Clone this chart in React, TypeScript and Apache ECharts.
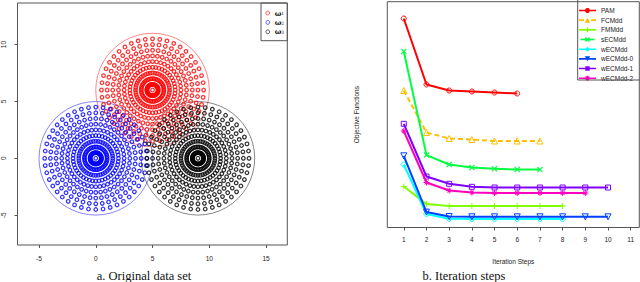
import React, { useEffect, useRef } from 'react';
import * as echarts from 'echarts';

// ---------- Panel a: original data set ----------
const clusterNames = ['ω1', 'ω2', 'ω3'];
const clusterCenters: [number, number][] = [[5, 6], [0, 0], [9, 0]];
const ringRadii = [0, 0.5, 1, 1.5, 2, 2.5, 3, 3.5, 4, 4.5];
const ringPointCounts = [1, 44, 44, 44, 44, 44, 44, 44, 44, 44];
const clusterOuterRadius = 5;
const xTicksA = [-5, 0, 5, 10, 15];
const yTicksA = [-5, 0, 5, 10];

// ---------- Panel b: iteration steps ----------
const methodNames = ['PAM', 'FCMdd', 'FMMdd', 'sECMdd', 'wECMdd', 'wECMdd-0', 'wECMdd-1', 'wECMdd-2'];
const pamValues = [209, 143, 137, 136, 135, 134];
const fcmddValues = [137, 95, 89, 88, 86.5, 86.5, 86.5];
const fmmddValues = [41, 23.4, 21.4, 21.4, 21.4, 21.4, 21.4, 21.4];
const secmddValues = [176, 72.4, 63, 60, 58.7, 58, 58];
const wecmddValues = [63, 13.4, 8.7, 8.4, 8.4, 8.4, 8.4, 8.4];
const wecmdd0Values = [71.7, 15.4, 11, 10.7, 10.7, 10.7, 10.7, 10.7, 10.7, 10.7];
const wecmdd1Values = [103.7, 51, 43.7, 40.7, 40, 40, 40, 40, 40, 40];
const wecmdd2Values = [96.4, 45, 37, 35, 34.4, 34.4, 34.4, 34.4, 34.4];
const methodValues = [pamValues, fcmddValues, fmmddValues, secmddValues, wecmddValues, wecmdd0Values, wecmdd1Values, wecmdd2Values];
const iterTicks = [1, 2, 3, 4, 5, 6, 7, 8, 9, 10, 11];

// ---------- styles ----------
const clusterColors = ['#ff0000', '#0000ff', '#000000'];
const methodColors = ['#FF0000', '#FFBF00', '#80FF00', '#00FF40', '#00FFFF', '#0040FF', '#8000FF', '#FF00BF'];

const polyPath = (pts: number[][]) => 'M' + pts.map((p) => p[0].toFixed(2) + ',' + p[1].toFixed(2)).join(' L') + ' Z';
const plusPts = (cx: number, cy: number, r: number, t: number) => [
  [cx - t, cy - r], [cx + t, cy - r], [cx + t, cy - t], [cx + r, cy - t], [cx + r, cy + t], [cx + t, cy + t],
  [cx + t, cy + r], [cx - t, cy + r], [cx - t, cy + t], [cx - r, cy + t], [cx - r, cy - t], [cx - t, cy - t],
];
const rotPts = (pts: number[][], cx: number, cy: number, a: number) =>
  pts.map(([x, y]) => [cx + (x - cx) * Math.cos(a) - (y - cy) * Math.sin(a), cy + (x - cx) * Math.sin(a) + (y - cy) * Math.cos(a)]);
const circlePts = (cx: number, cy: number, r: number) =>
  Array.from({ length: 14 }, (_, i) => [cx + r * Math.cos((i / 14) * Math.PI * 2), cy + r * Math.sin((i / 14) * Math.PI * 2)]);

const plusD = polyPath(plusPts(5, 5, 5, 0.8));
const crossD = polyPath(rotPts(plusPts(5, 5, 5, 0.8), 5, 5, Math.PI / 4));
const asteriskD = plusD + ' ' + polyPath(rotPts(plusPts(5, 5, 4.6, 0.7), 5, 5, Math.PI / 4));

const seriesSymbols: any[] = [
  { symbol: 'circle', size: 5, empty: true },
  { symbol: 'triangle', size: 6, empty: true },
  { symbol: 'path://' + plusD, size: 6, empty: false },
  { symbol: 'path://' + crossD, size: 6, empty: false },
  { symbol: 'diamond', size: 6, empty: true },
  { symbol: 'triangle', size: 6, empty: true, rotate: 180 },
  { symbol: 'rect', size: 5, empty: true },
  { symbol: 'path://' + asteriskD, size: 6, empty: false },
];

// legend icons (line + filled marker) in a 17 x 5 box
const barD = 'M0,1.7 L17,1.7 L17,3.3 L0,3.3 Z';
const dashBarD = 'M0,1.7 L5,1.7 L5,3.3 L0,3.3 Z M12,1.7 L17,1.7 L17,3.3 L12,3.3 Z';
const legendMarkers = [
  polyPath(circlePts(8.5, 2.5, 2.5)),
  polyPath([[8.5, 0], [11.2, 5], [5.8, 5]]),
  polyPath(plusPts(8.5, 2.5, 2.5, 0.65)),
  polyPath(rotPts(plusPts(8.5, 2.5, 3.4, 0.8), 8.5, 2.5, Math.PI / 4)),
  polyPath([[8.5, 0], [11, 2.5], [8.5, 5], [6, 2.5]]),
  polyPath([[5.8, 0], [11.2, 0], [8.5, 5]]),
  polyPath([[6.3, 0.2], [10.7, 0.2], [10.7, 4.8], [6.3, 4.8]]),
  polyPath(plusPts(8.5, 2.5, 2.5, 0.6)) + ' ' + polyPath(rotPts(plusPts(8.5, 2.5, 2.5, 0.6), 8.5, 2.5, Math.PI / 4)),
];

function buildClusterPoints(center: [number, number]) {
  const pts: number[][] = [];
  ringRadii.forEach((r, ri) => {
    const n = ringPointCounts[ri];
    for (let k = 0; k < n; k++) {
      const a = (k / n) * Math.PI * 2;
      pts.push([center[0] + r * Math.cos(a), center[1] + r * Math.sin(a)]);
    }
  });
  return pts;
}

const tickFont = { fontSize: 6.5, color: '#222', fontFamily: 'Liberation Sans, Arial, sans-serif' };
const noLine = { show: false, onZero: false };

export default function App() {
  const ref = useRef<HTMLDivElement>(null);
  useEffect(() => {
    if (!ref.current) return;
    const chart = echarts.init(ref.current, undefined, { renderer: 'svg' });

    const scatterSeries = clusterNames.map((name, i) => ({
      name,
      type: 'scatter',
      xAxisIndex: 0,
      yAxisIndex: 0,
      data: buildClusterPoints(clusterCenters[i]),
      symbol: 'circle',
      symbolSize: 3.6,
      itemStyle: { color: 'rgba(0,0,0,0)', borderColor: clusterColors[i], borderWidth: 1.25 },
      silent: true,
      z: 3,
    }));

    const outlineSeries = {
      type: 'custom',
      xAxisIndex: 0,
      yAxisIndex: 0,
      data: clusterCenters.map(([x, y]) => [x, y, clusterOuterRadius]),
      silent: true,
      z: 2,
      renderItem: (params: any, api: any) => {
        const c = api.coord([api.value(0), api.value(1)]);
        const s = api.size([api.value(2), api.value(2)]);
        return {
          type: 'circle',
          shape: { cx: c[0], cy: c[1], r: s[0] },
          style: { fill: 'none', stroke: clusterColors[params.dataIndex], lineWidth: 0.8, opacity: 0.6 },
        };
      },
    };

    const lineSeries = methodNames.map((name, i) => {
      const s = seriesSymbols[i];
      return {
        name,
        type: 'line',
        xAxisIndex: 1,
        yAxisIndex: 1,
        data: methodValues[i].map((v, k) => [k + 1, v]),
        symbol: s.symbol,
        symbolSize: s.size,
        symbolRotate: s.rotate || 0,
        showAllSymbol: true,
        lineStyle: { color: methodColors[i], width: 2, type: i === 1 ? [5, 3] : 'solid' },
        itemStyle: s.empty
          ? { color: 'rgba(0,0,0,0)', borderColor: methodColors[i], borderWidth: 1 }
          : { color: methodColors[i], borderWidth: 0 },
        silent: true,
        z: 3 + i,
      };
    });

    const option: any = {
      animation: false,
      backgroundColor: '#fff',
      grid: [
        { left: 16.7, top: 3, width: 270.6, height: 242, show: true, borderColor: '#555', borderWidth: 1, backgroundColor: 'transparent' },
        { left: 387.3, top: 1.7, width: 252, height: 225.8, show: true, borderColor: '#555', borderWidth: 1, backgroundColor: 'transparent' },
      ],
      xAxis: [
        {
          type: 'value', gridIndex: 0, min: -6.895, max: 16.87,
          axisLine: noLine, splitLine: { show: false },
          axisTick: { customValues: xTicksA, length: 3, lineStyle: { color: '#555' } },
          axisLabel: { customValues: xTicksA, margin: 10, ...tickFont },
        },
        {
          type: 'value', gridIndex: 1, min: 0.273, max: 11.38,
          axisLine: noLine, splitLine: { show: false },
          axisTick: { customValues: iterTicks, length: 3, lineStyle: { color: '#555' } },
          axisLabel: { customValues: iterTicks, margin: 8.5, ...tickFont },
          name: 'Iteration Steps', nameLocation: 'middle', nameGap: 30,
          nameTextStyle: { ...tickFont },
        },
      ],
      yAxis: [
        {
          type: 'value', gridIndex: 0, min: -7.62, max: 13.65,
          axisLine: noLine, splitLine: { show: false },
          axisTick: { customValues: yTicksA, length: 3, lineStyle: { color: '#555' } },
          axisLabel: { customValues: yTicksA, rotate: 90, margin: 10.5, ...tickFont },
        },
        {
          type: 'value', gridIndex: 1, min: 0, max: 225.8,
          axisLine: noLine, splitLine: { show: false },
          axisTick: { show: false }, axisLabel: { show: false },
          name: 'Objective Functions', nameLocation: 'middle', nameGap: 27, nameRotate: 90,
          nameTextStyle: { ...tickFont },
        },
      ],
      legend: [
        {
          data: clusterNames.map((name, i) => ({
            name,
            itemStyle: { color: 'rgba(0,0,0,0)', borderColor: clusterColors[i], borderWidth: 0.8 },
          })),
          orient: 'vertical',
          left: 265.5,
          top: 9.5,
          padding: 0,
          itemWidth: 3.8,
          itemHeight: 3.8,
          itemGap: 2.4,
          selectedMode: false,
          formatter: (name: string) => `{w|ω}{s|${name.slice(1)}}`,
          textStyle: {
            color: '#111',
            rich: {
              w: { fontSize: 7, fontFamily: 'DejaVu Serif, serif', fontWeight: 'bold', lineHeight: 7 },
              s: { fontSize: 4.5, fontFamily: 'DejaVu Serif, serif', verticalAlign: 'bottom', lineHeight: 7 },
            },
          },
        },
        {
          data: methodNames.map((name, i) => ({
            name,
            icon: 'path://' + (i === 1 ? dashBarD : barD) + ' ' + legendMarkers[i],
            itemStyle: { color: methodColors[i], borderWidth: 0 },
          })),
          orient: 'vertical',
          left: 579,
          top: 7,
          padding: 0,
          itemWidth: 17,
          itemHeight: 5,
          itemGap: 2.67,
          selectedMode: false,
          textStyle: { ...tickFont, fontSize: 6.5, lineHeight: 6, color: '#222' },
        },
      ],
      graphic: [
        { type: 'rect', shape: { x: 261, y: 3, width: 26.3, height: 37.7 }, style: { fill: 'none', stroke: '#555', lineWidth: 1 }, z: 10, silent: true },
        { type: 'rect', shape: { x: 577.7, y: -1, width: 80, height: 81 }, style: { fill: 'none', stroke: '#555', lineWidth: 1 }, z: 10, silent: true },
        {
          type: 'text', x: 144, y: 276,
          style: { text: 'a. Original data set', font: '12.5px "Liberation Serif", serif', fill: '#111', textAlign: 'center', textVerticalAlign: 'middle' },
        },
        {
          type: 'text', x: 464, y: 276,
          style: { text: 'b. Iteration steps', font: '12.5px "Liberation Serif", serif', fill: '#111', textAlign: 'center', textVerticalAlign: 'middle' },
        },
      ],
      series: [outlineSeries, ...scatterSeries, ...lineSeries],
    };

    chart.setOption(option);
    return () => chart.dispose();
  }, []);

  return <div ref={ref} style={{ position: 'fixed', left: 0, top: 0, width: 640, height: 282 }} />;
}
